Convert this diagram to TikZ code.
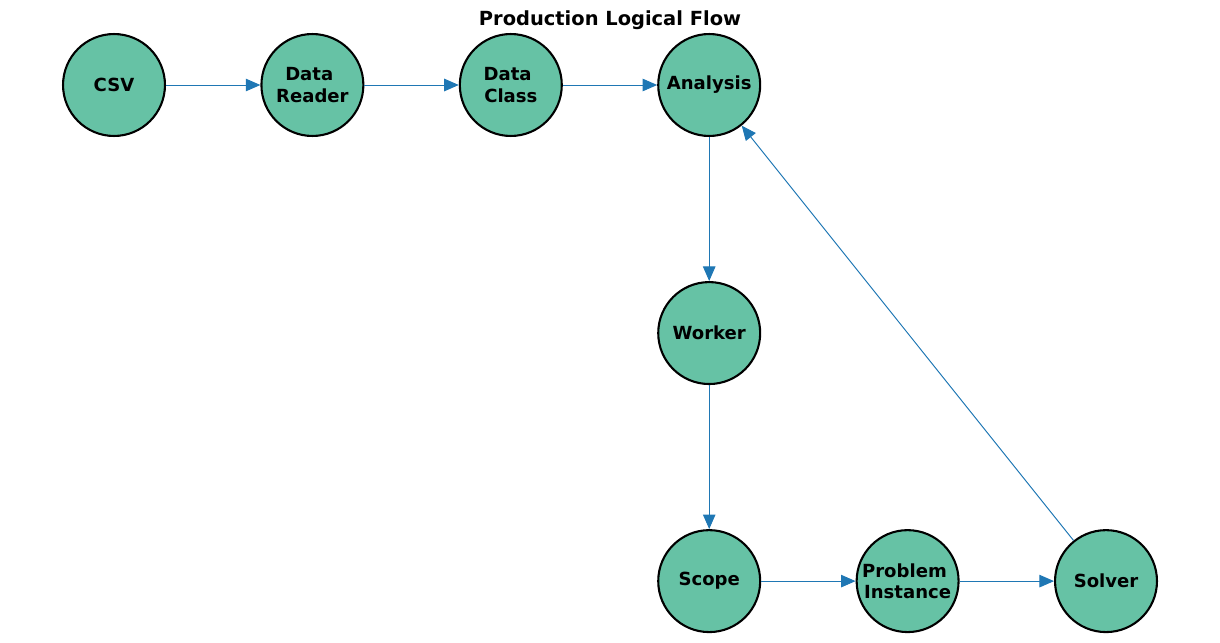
\documentclass[tikz,border=0pt]{standalone}
\usepackage{fontspec}
\setmainfont{DejaVu Sans}
\usetikzlibrary{positioning, arrows.meta}
\definecolor{nodegreen}{RGB}{102,194,165}
\definecolor{edgeblue}{RGB}{31,119,180}

\begin{document}
\begin{tikzpicture}[x=0.72pt, y=-0.72pt,
        on grid, node distance=178.6pt and 142.85pt,
        stage/.style={circle, draw=black, fill=nodegreen, line width=1.5pt,
            minimum size=73.4pt, inner sep=0pt, align=center,
            font=\fontsize{13}{15.2}\selectfont\bfseries},
        flow/.style={draw=edgeblue, line width=0.7pt,
            -{Triangle[length=10.5pt, width=9pt]}}]
            \useasboundingbox (0,0) rectangle (1220,643);
            \node[font=\fontsize{14}{16}\selectfont\bfseries] (title) at (610,20.5) {Production Logical Flow};
            \node[stage] (csv) at (114,85) {CSV};
            \node[stage, right=of csv] (reader) {Data\kern0.35em\\Reader};
            \node[stage, right=of reader] (dataclass) {Data\kern0.35em\\Class};
            \node[stage, right=of dataclass] (analysis) {Analysis};
            \node[stage, below=of analysis] (worker) {Worker};
            \node[stage, below=of worker] (scope) {Scope};
            \node[stage, right=of scope] (instance) {Problem\kern0.35em\\Instance};
            \node[stage, right=of instance] (solver) {Solver};
            \draw[flow] (csv) -- (reader);
            \draw[flow] (reader) -- (dataclass);
            \draw[flow] (dataclass) -- (analysis);
            \draw[flow] (analysis) -- (worker);
            \draw[flow] (worker) -- (scope);
            \draw[flow] (scope) -- (instance);
            \draw[flow] (instance) -- (solver);
            \draw[flow] (solver) -- (analysis);
        \end{tikzpicture}
\end{document}
